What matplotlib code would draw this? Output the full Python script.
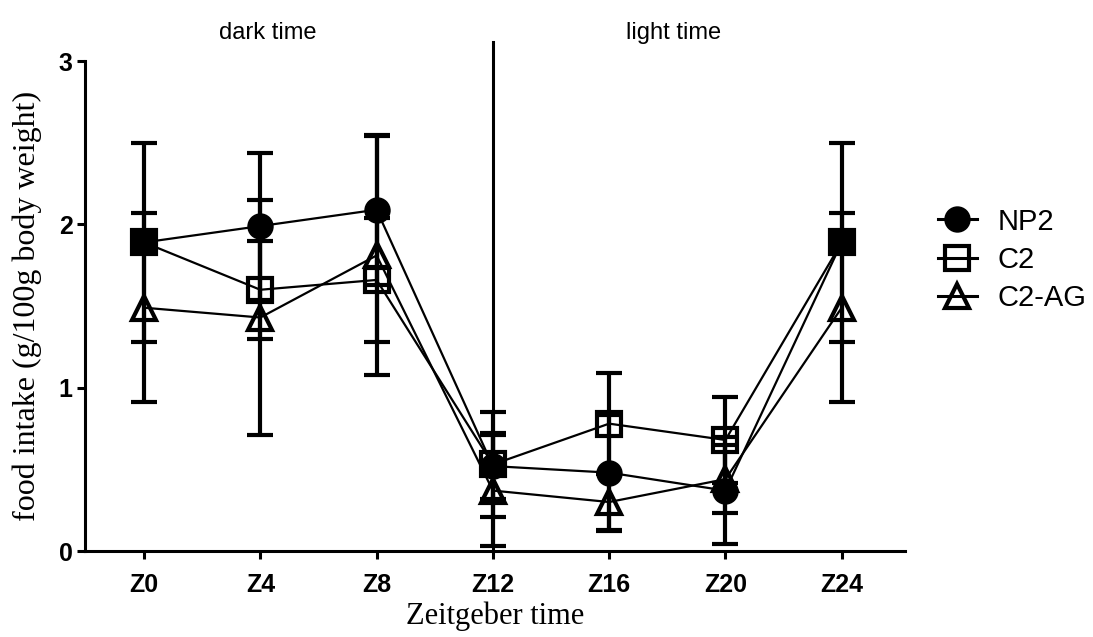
import numpy as np
import matplotlib
matplotlib.use("Agg")
import matplotlib.pyplot as plt
from matplotlib.lines import Line2D

# zeitgeber time points (hours) and their tick labels
times = [0, 4, 8, 12, 16, 20, 24]
time_labels = ["Z0", "Z4", "Z8", "Z12", "Z16", "Z20", "Z24"]

# mean food intake (g/100g body weight) and error for each group
np2_mean = [1.89, 1.99, 2.09, 0.52, 0.48, 0.37, 1.89]
np2_err = [0.61, 0.45, 0.46, 0.20, 0.35, 0.33, 0.61]
c2_mean = [1.89, 1.60, 1.66, 0.53, 0.78, 0.68, 1.89]
c2_err = [0.05, 0.30, 0.38, 0.32, 0.31, 0.265, 0.05]
c2ag_mean = [1.49, 1.43, 1.81, 0.37, 0.30, 0.44, 1.49]
c2ag_err = [0.58, 0.72, 0.73, 0.34, 0.18, 0.21, 0.58]

group_names = ["NP2", "C2", "C2-AG"]

sans = ["Liberation Sans", "DejaVu Sans"]
serif = ["Liberation Serif", "DejaVu Serif"]

# marker style per group: (marker, face colour, size)
styles = [("o", "black", 16), ("s", "none", 17), ("^", "none", 17)]


def PlotGroup(ax, mean, err, style, z):
    """Plots one group as a line with markers and capped error bars"""
    marker, face, size = style
    ax.errorbar(times, mean, yerr=err, color="black", linewidth=1.6,
                marker=marker, markersize=size, markerfacecolor=face,
                markeredgecolor="black", markeredgewidth=3,
                elinewidth=3, capsize=9.5, capthick=3,
                zorder=z, clip_on=False)


fig = plt.figure(figsize=(10.93, 6.37), dpi=100)
ax = fig.add_axes([0.0778, 0.135, 0.75, 0.769])

PlotGroup(ax, c2ag_mean, c2ag_err, styles[2], 3)
PlotGroup(ax, c2_mean, c2_err, styles[1], 4)
PlotGroup(ax, np2_mean, np2_err, styles[0], 5)

# divider between dark and light phase, sticks out above the axes
ax.plot([12, 12], [0, 3.115], color="black", linewidth=2.2, clip_on=False,
        zorder=2)
ax.text(4.26, 3.17, "dark time", ha="center", va="center", fontsize=17,
        family=sans, clip_on=False)
ax.text(18.2, 3.17, "light time", ha="center", va="center", fontsize=17,
        family=sans, clip_on=False)

ax.set_xlim(-2.03, 26.17)
ax.set_ylim(0, 3)
ax.set_xticks(times)
ax.set_xticklabels(time_labels)
ax.set_yticks(np.arange(0, 4, 1))

for side in ["top", "right"]:
    ax.spines[side].set_visible(False)
for side in ["left", "bottom"]:
    ax.spines[side].set_linewidth(2.2)

ax.tick_params(axis="both", length=6, width=2.2, direction="out", pad=3)
for lbl in ax.get_xticklabels() + ax.get_yticklabels():
    lbl.set_fontfamily(sans)
    lbl.set_fontweight("bold")
    lbl.set_fontsize(18)
ax.tick_params(axis="x", pad=10)

ax.set_xlabel("Zeitgeber time", family=serif, fontsize=22, labelpad=3)
ax.set_ylabel("food intake (g/100g body weight)", family=serif,
              fontsize=23, labelpad=12)

# legend handles without the error bar caps
handles = [Line2D([], [], color="black", linewidth=2.2, marker=m,
                  markersize=s, markerfacecolor=f, markeredgecolor="black",
                  markeredgewidth=3)
           for m, f, s in styles]
leg = fig.legend(handles, group_names, loc="center left",
                 bbox_to_anchor=(0.858, 0.592),
                 frameon=False, borderpad=0, borderaxespad=0,
                 handlelength=1.35, handletextpad=0.7, labelspacing=0.35,
                 prop={"family": sans, "size": 21})

fig.savefig("out.png", dpi=100)
